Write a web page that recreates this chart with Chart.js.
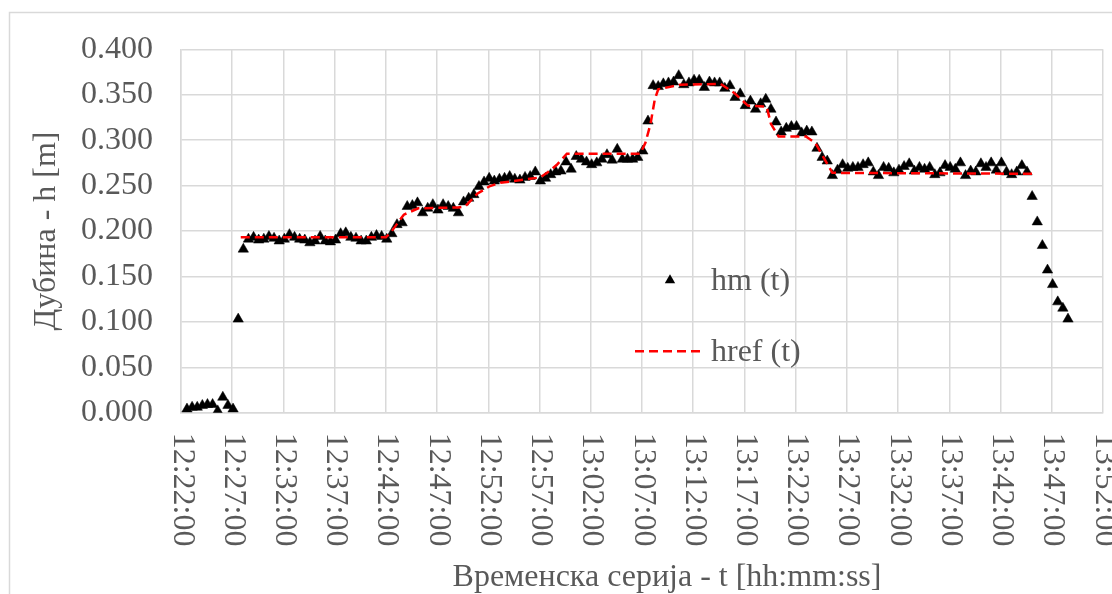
<!DOCTYPE html>
<html>
<head>
<meta charset="utf-8">
<script src="https://cdn.jsdelivr.net/npm/chart.js@4.4.1/dist/chart.umd.min.js"></script>
<style>
  html, body { margin: 0; padding: 0; background: #ffffff; }
  #wrap { width: 1112px; height: 594px; position: relative; }
</style>
</head>
<body>
<div id="wrap"><canvas id="chart" width="1112" height="594"></canvas></div>
<script>
// Time axis tick labels (every 5 minutes)
const xTickLabels = [
  '12:22:00', '12:27:00', '12:32:00', '12:37:00', '12:42:00', '12:47:00', '12:52:00',
  '12:57:00', '13:02:00', '13:07:00', '13:12:00', '13:17:00', '13:22:00', '13:27:00',
  '13:32:00', '13:37:00', '13:42:00', '13:47:00', '13:52:00'
];

// Measured depth hm(t): sampled every 30 s starting at hmStart
const hmStart = '12:22:35';
const hmStepSeconds = 30;
const hmValues = [
  0.004, 0.006, 0.006, 0.008, 0.009, 0.009, 0.002, 0.017, 0.008, 0.004,
  0.103, 0.180, 0.191, 0.193, 0.190, 0.191, 0.194, 0.192, 0.189, 0.191,
  0.196, 0.193, 0.191, 0.190, 0.187, 0.189, 0.194, 0.189, 0.188, 0.190,
  0.197, 0.198, 0.193, 0.192, 0.189, 0.189, 0.193, 0.195, 0.194, 0.191,
  0.197, 0.207, 0.209, 0.227, 0.228, 0.231, 0.220, 0.225, 0.229, 0.223,
  0.229, 0.227, 0.225, 0.220, 0.232, 0.236, 0.240, 0.249, 0.254, 0.258,
  0.255, 0.257, 0.258, 0.260, 0.257, 0.256, 0.259, 0.260, 0.265, 0.255,
  0.258, 0.262, 0.265, 0.266, 0.276, 0.268, 0.282, 0.279, 0.276, 0.273,
  0.275, 0.279, 0.284, 0.278, 0.290, 0.279, 0.279, 0.279, 0.281, 0.288,
  0.321, 0.360, 0.359, 0.362, 0.363, 0.364, 0.371, 0.361, 0.363, 0.366,
  0.366, 0.358, 0.364, 0.363, 0.363, 0.357, 0.360, 0.347, 0.351, 0.338,
  0.343, 0.334, 0.340, 0.345, 0.334, 0.320, 0.309, 0.313, 0.315, 0.315,
  0.308, 0.310, 0.309, 0.291, 0.281, 0.277, 0.261, 0.267, 0.273, 0.269,
  0.270, 0.270, 0.273, 0.275, 0.265, 0.261, 0.270, 0.269, 0.264, 0.267,
  0.271, 0.274, 0.266, 0.270, 0.268, 0.270, 0.262, 0.264, 0.272, 0.270,
  0.268, 0.275, 0.261, 0.266, 0.265, 0.274, 0.270, 0.275, 0.267, 0.275,
  0.265, 0.262, 0.265, 0.272, 0.265, 0.238, 0.210, 0.184, 0.157, 0.141,
  0.122, 0.115, 0.103
];

// Reference depth href(t): break points of the reference curve
const hrefTimes = [
  '12:27:50', '12:42:00', '12:42:35', '12:43:45', '12:45:10', '12:49:05', '12:49:45',
  '12:50:55', '12:52:10', '12:53:10', '12:57:05', '12:57:50', '12:58:40', '12:59:40',
  '13:06:50', '13:07:20', '13:07:50', '13:08:15', '13:08:35', '13:10:45', '13:14:40',
  '13:16:00', '13:17:20', '13:19:10', '13:19:35', '13:20:20', '13:23:00', '13:23:55',
  '13:25:35', '13:45:10'
];
const hrefValues = [
  0.193, 0.193, 0.200, 0.218, 0.225, 0.226, 0.227,
  0.241, 0.2495, 0.253, 0.259, 0.265, 0.2726, 0.285,
  0.285, 0.297, 0.318, 0.345, 0.356, 0.361, 0.362,
  0.352, 0.338, 0.337, 0.318, 0.304, 0.304, 0.297,
  0.264, 0.263
];

const seriesNames = ['hm (t)', 'href (t)'];
const xTitle = 'Временска серија - t [hh:mm:ss]';
const yTitle = 'Дубина - h [m]';

const FONT_FAMILY = '"Liberation Serif", "Times New Roman", serif';
const FONT_SIZE = 32;
const TEXT_COLOR = '#595959';
const GRID_COLOR = '#d9d9d9';
const MARKER_RADIUS = 6;

function toSec(hms) {
  const p = hms.split(':').map(Number);
  return p[0] * 3600 + p[1] * 60 + p[2];
}
function fmtTime(sec) {
  const h = Math.floor(sec / 3600), m = Math.floor((sec % 3600) / 60), s = Math.round(sec % 60);
  return [h, m, s].map(v => String(v).padStart(2, '0')).join(':');
}

const startSec = toSec(hmStart);
const hmData = hmValues.map((v, i) => ({ x: startSec + i * hmStepSeconds, y: v }));
const hrefData = hrefTimes.map((t, i) => ({ x: toSec(t), y: hrefValues[i] }));

const xMin = toSec(xTickLabels[0]);
const xMax = toSec(xTickLabels[xTickLabels.length - 1]);

// White background and the light outer frame of the chart
const frame = {
  id: 'frame',
  beforeDraw(chart) {
    const ctx = chart.ctx;
    ctx.save();
    ctx.fillStyle = '#ffffff';
    ctx.fillRect(0, 0, chart.width, chart.height);
    ctx.strokeStyle = GRID_COLOR;
    ctx.lineWidth = 1.5;
    ctx.strokeRect(9.5, 12.5, chart.width + 20, chart.height + 20);
    ctx.restore();
  }
};

// Time tick labels, turned 90° clockwise and reading downward from the axis,
// plus the horizontal axis title centred under the whole chart
const timeLabels = {
  id: 'timeLabels',
  afterDraw(chart) {
    const s = chart.scales.x;
    const ctx = chart.ctx;
    ctx.save();
    ctx.font = FONT_SIZE + 'px ' + FONT_FAMILY;
    ctx.fillStyle = TEXT_COLOR;
    ctx.textAlign = 'left';
    ctx.textBaseline = 'middle';
    s.ticks.forEach(t => {
      const x = s.getPixelForValue(t.value);
      ctx.save();
      ctx.translate(x + 1, s.top + 20);
      ctx.rotate(Math.PI / 2);
      ctx.fillText(t.label, 0, 0);
      ctx.restore();
    });
    ctx.textAlign = 'center';
    ctx.fillText(xTitle, (chart.width + 222) / 2, s.bottom - 16);
    ctx.restore();
  }
};

// Legend placed inside the plot area
const innerLegend = {
  id: 'innerLegend',
  afterDraw(chart) {
    const ca = chart.chartArea;
    const ctx = chart.ctx;
    const textX = ca.left + 530;
    const row1 = ca.top + 231;
    const row2 = ca.top + 302;
    ctx.save();
    // triangle marker
    const mx = ca.left + 489, r = MARKER_RADIUS;
    ctx.fillStyle = '#000000';
    ctx.beginPath();
    ctx.moveTo(mx, row1 - r);
    ctx.lineTo(mx + r * Math.sqrt(3) / 2, row1 + r / 2);
    ctx.lineTo(mx - r * Math.sqrt(3) / 2, row1 + r / 2);
    ctx.closePath();
    ctx.fill();
    // dashed sample
    ctx.strokeStyle = '#ff0000';
    ctx.lineWidth = 2.5;
    ctx.setLineDash([9, 5]);
    ctx.beginPath();
    ctx.moveTo(ca.left + 454, row2);
    ctx.lineTo(ca.left + 520, row2);
    ctx.stroke();
    ctx.setLineDash([]);
    ctx.font = FONT_SIZE + 'px ' + FONT_FAMILY;
    ctx.fillStyle = TEXT_COLOR;
    ctx.textAlign = 'left';
    ctx.textBaseline = 'middle';
    ctx.fillText(seriesNames[0], textX, row1 + 1);
    ctx.fillText(seriesNames[1], textX, row2 + 1);
    ctx.restore();
  }
};

function zeroPadding(scale) {
  scale.paddingLeft = 0; scale.paddingRight = 0;
  scale.paddingTop = 0; scale.paddingBottom = 0;
}

new Chart(document.getElementById('chart'), {
  type: 'scatter',
  data: {
    datasets: [
      {
        label: seriesNames[0],
        data: hmData,
        showLine: false,
        pointStyle: 'triangle',
        pointRadius: MARKER_RADIUS,
        pointBackgroundColor: '#000000',
        pointBorderColor: '#000000',
        pointBorderWidth: 0.5,
        order: 2
      },
      {
        type: 'line',
        label: seriesNames[1],
        data: hrefData,
        borderColor: '#ff0000',
        borderWidth: 2.5,
        borderDash: [9, 5],
        pointRadius: 0,
        fill: false,
        tension: 0,
        order: 1
      }
    ]
  },
  options: {
    responsive: false,
    animation: false,
    events: [],
    layout: { padding: { top: 49.3, right: 9, bottom: 0, left: 0 } },
    plugins: {
      legend: { display: false },
      tooltip: { enabled: false }
    },
    scales: {
      x: {
        type: 'linear',
        min: xMin,
        max: xMax,
        afterBuildTicks(scale) {
          scale.ticks = xTickLabels.map(l => ({ value: toSec(l) }));
        },
        ticks: {
          display: false,
          callback: (v) => fmtTime(v)
        },
        grid: { color: GRID_COLOR, lineWidth: 1.5, drawTicks: false },
        border: { color: GRID_COLOR, width: 1.5 },
        title: { display: false },
        afterFit(scale) {
          scale.height = 594 - 412.7;
          zeroPadding(scale);
        }
      },
      y: {
        min: 0,
        max: 0.4,
        ticks: {
          stepSize: 0.05,
          color: TEXT_COLOR,
          padding: 28,
          font: { family: FONT_FAMILY, size: FONT_SIZE },
          callback: (v) => v.toFixed(3)
        },
        grid: { color: GRID_COLOR, lineWidth: 1.5, drawTicks: false },
        border: { color: GRID_COLOR, width: 1.5 },
        title: {
          display: true,
          text: yTitle,
          color: TEXT_COLOR,
          font: { family: FONT_FAMILY, size: FONT_SIZE, lineHeight: 1 },
          padding: { top: 31, bottom: 0 }
        },
        afterFit(scale) {
          scale.width = 181;
          zeroPadding(scale);
        }
      }
    }
  },
  plugins: [frame, timeLabels, innerLegend]
});
</script>
</body>
</html>
